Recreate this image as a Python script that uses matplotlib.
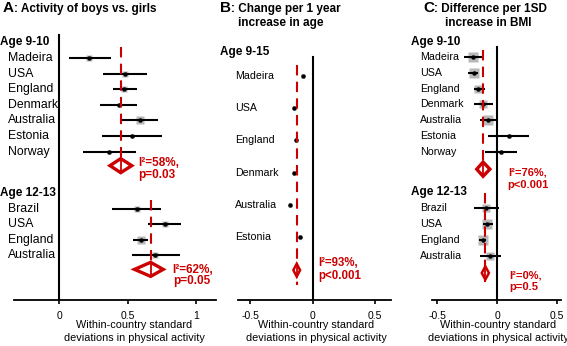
import matplotlib
matplotlib.use("Agg")
import matplotlib.pyplot as plt
import matplotlib.transforms as mtransforms
import numpy as np

plt.rcParams['font.family'] = ['Liberation Sans', 'DejaVu Sans']

# ---------------- data ----------------
# Panel A: activity of boys vs girls
a_g1_countries = ["Madeira", "USA", "England", "Denmark", "Australia", "Estonia", "Norway"]
a_g1_est = [0.22, 0.48, 0.475, 0.435, 0.59, 0.53, 0.36]
a_g1_lo = [0.07, 0.32, 0.39, 0.30, 0.45, 0.31, 0.17]
a_g1_hi = [0.38, 0.64, 0.57, 0.57, 0.72, 0.75, 0.56]
a_g1_weight = [5, 5, 5, 4, 6, 4, 4]
a_g1_pooled = [0.449, 0.37, 0.53]
a_g1_stat = ["I²=58%,", "p=0.03"]

a_g2_countries = ["Brazil", "USA", "England", "Australia"]
a_g2_est = [0.566, 0.775, 0.60, 0.70]
a_g2_lo = [0.385, 0.65, 0.54, 0.53]
a_g2_hi = [0.746, 0.89, 0.65, 0.88]
a_g2_weight = [5, 5, 6, 5]
a_g2_pooled = [0.668, 0.55, 0.76]
a_g2_stat = ["I²=62%,", "p=0.05"]

# Panel B: change per 1 year increase in age
b_countries = ["Madeira", "USA", "England", "Denmark", "Australia", "Estonia"]
b_est = [-0.075, -0.147, -0.133, -0.147, -0.18, -0.10]
b_lo = [-0.085, -0.155, -0.140, -0.155, -0.188, -0.110]
b_hi = [-0.065, -0.139, -0.126, -0.139, -0.172, -0.090]
b_weight = [3, 3, 3, 3, 3, 4]
b_pooled = [-0.128, -0.155, -0.101]
b_stat = ["I²=93%,", "p<0.001"]

# Panel C: difference per 1SD increase in BMI
c_g1_countries = ["Madeira", "USA", "England", "Denmark", "Australia", "Estonia", "Norway"]
c_g1_est = [-0.20, -0.195, -0.16, -0.117, -0.075, 0.10, 0.036]
c_g1_lo = [-0.28, -0.24, -0.19, -0.19, -0.14, -0.075, -0.10]
c_g1_hi = [-0.12, -0.16, -0.10, -0.03, -0.005, 0.27, 0.17]
c_g1_weight = [8, 8, 7, 6, 8, 3, 4]
c_g1_pooled = [-0.117, -0.17, -0.06]
c_g1_stat = ["I²=76%,", "p<0.001"]

c_g2_countries = ["Brazil", "USA", "England", "Australia"]
c_g2_est = [-0.09, -0.08, -0.12, -0.056]
c_g2_lo = [-0.19, -0.12, -0.15, -0.145]
c_g2_hi = [0.02, -0.03, -0.09, 0.03]
c_g2_weight = [6, 8, 8, 6]
c_g2_pooled = [-0.098, -0.128, -0.068]
c_g2_stat = ["I²=0%,", "p=0.5"]

a_ticks = [0, 0.5, 1]
a_ticklabels = ["0", "0.5", "1"]
bc_ticks = [-0.5, 0, 0.5]
bc_ticklabels = ["-0.5", "0", "0.5"]

xlabel_lines = ["Within-country standard", "deviations in physical activity"]

# ---------------- layout ----------------
W, H = 567, 346
fig = plt.figure(figsize=(W / 100, H / 100), dpi=100)
RED = "#cc0000"
GRAY = "#b8b8b8"
PT = 72 / 100  # points per pixel


def fx(px):
    return px / W


def fy(py):
    return 1 - py / H


def make_ax(x0, x1, xlim, ylim):
    ax = fig.add_axes([fx(x0), fy(300), (x1 - x0) / W, 270 / H])
    ax.set_xlim(*xlim)
    ax.set_ylim(*ylim)
    for s in ("left", "top", "right"):
        ax.spines[s].set_visible(False)
    ax.spines["bottom"].set_linewidth(1.3)
    ax.set_yticks([])
    ax.tick_params(axis="x", direction="out", length=3, width=1.2, pad=5, labelsize=7.5)
    ax.patch.set_visible(False)
    return ax


def draw_group(ax, ys, est, lo, hi, weight, show_ci=True):
    for y, e, l, h, w in zip(ys, est, lo, hi, weight):
        ax.plot([e], [y], marker="s", ms=w * PT * 1.25, color=GRAY, mec="none", zorder=2)
        if show_ci:
            ax.plot([l, h], [y, y], color="black", lw=1.5, zorder=3, solid_capstyle="butt")
        ax.plot([e], [y], marker="o", ms=3.2, color="black", mec="none", zorder=4)


def draw_pooled(ax, yd, pooled, hh, ytop, ybot, lw=2.4):
    e, l, h = pooled
    ax.plot([e, e], [ytop, ybot], color=RED, lw=1.5, dashes=(5, 3), zorder=5)
    xs = [l, e, h, e, l]
    ysd = [yd, yd - hh, yd, yd + hh, yd]
    ax.fill(xs, ysd, facecolor="white", edgecolor=RED, lw=lw, zorder=6, joinstyle="miter")
    ax.plot([e, e], [yd - hh, yd + hh], color=RED, lw=1.3, zorder=7)


def stat_text(ax, x, y1, y2, lines, size):
    ax.text(x, y1, lines[0], color=RED, fontsize=size, fontweight="bold", va="center", ha="left")
    ax.text(x, y2, lines[1], color=RED, fontsize=size, fontweight="bold", va="center", ha="left")


def labels(ax, xpx, ys, names, size):
    tr = mtransforms.blended_transform_factory(fig.transFigure, ax.transData)
    for y, n in zip(ys, names):
        ax.text(fx(xpx), y, n, transform=tr, fontsize=size, va="center", ha="left", clip_on=False)


def header(ax, xpx, y, text):
    tr = mtransforms.blended_transform_factory(fig.transFigure, ax.transData)
    ax.text(fx(xpx), y, text, transform=tr, fontsize=8.5, fontweight="bold", va="center", ha="left")


def xlabel(cx):
    fig.text(fx(cx), fy(325), xlabel_lines[0], fontsize=7.8, ha="center", va="center")
    fig.text(fx(cx), fy(338), xlabel_lines[1], fontsize=7.8, ha="center", va="center")


# ---- Panel A ----
ua, ya0 = 15.6, 58
axA = make_ax(14, 216, (-0.333, 1.147), ((300 - ya0) / ua, (30 - ya0) / ua))
axA.set_xticks(a_ticks)
axA.set_xticklabels(a_ticklabels)
ya1 = np.arange(len(a_g1_countries), dtype=float)
ya2 = 9.65 + np.arange(len(a_g2_countries))
axA.plot([0, 0], [-1.47, (300 - ya0) / ua], color="black", lw=1.5, zorder=1)
draw_group(axA, ya1, a_g1_est, a_g1_lo, a_g1_hi, a_g1_weight)
draw_group(axA, ya2, a_g2_est, a_g2_lo, a_g2_hi, a_g2_weight)
draw_pooled(axA, 6.9, a_g1_pooled, 0.45, -0.7, 7.45)
draw_pooled(axA, 13.55, a_g2_pooled, 0.45, 9.1, 14.2)
stat_text(axA, 0.575, 6.71, 7.5, a_g1_stat, 8.5)
stat_text(axA, 0.83, 13.6, 14.3, a_g2_stat, 8.5)
labels(axA, 8, ya1, a_g1_countries, 8.8)
labels(axA, 8, ya2, a_g2_countries, 8.8)
header(axA, 0, -1.0, "Age 9-10")
header(axA, 0, 8.65, "Age 12-13")
xlabel(134.5)

# ---- Panel B ----
ub, yb0 = 32.2, 76
axB = make_ax(237.7, 391, (-0.6, 0.626), ((300 - yb0) / ub, (30 - yb0) / ub))
axB.set_xticks(bc_ticks)
axB.set_xticklabels(bc_ticklabels)
yb = np.arange(len(b_countries), dtype=float)
axB.plot([0, 0], [-0.59, (300 - yb0) / ub], color="black", lw=1.5, zorder=1)
draw_group(axB, yb, b_est, b_lo, b_hi, b_weight)
draw_pooled(axB, 6.03, b_pooled, 0.2, -0.34, 6.49, lw=1.8)
stat_text(axB, 0.042, 5.81, 6.21, b_stat, 8.3)
labels(axB, 235, yb, b_countries, 7.7)
header(axB, 220, -0.75, "Age 9-15")
xlabel(316)

# ---- Panel C ----
uc, yc0 = 15.8, 57
axC = make_ax(432, 561, (-0.545, 0.536), ((300 - yc0) / uc, (30 - yc0) / uc))
axC.set_xticks(bc_ticks)
axC.set_xticklabels(bc_ticklabels)
yc1 = np.arange(len(c_g1_countries), dtype=float)
yc2 = 9.57 + np.arange(len(c_g2_countries))
axC.plot([0, 0], [-0.63, (300 - yc0) / uc], color="black", lw=1.5, zorder=1)
draw_group(axC, yc1, c_g1_est, c_g1_lo, c_g1_hi, c_g1_weight)
draw_group(axC, yc2, c_g2_est, c_g2_lo, c_g2_hi, c_g2_weight)
draw_pooled(axC, 7.1, c_g1_pooled, 0.45, -0.44, 7.66)
draw_pooled(axC, 13.67, c_g2_pooled, 0.42, 8.6, 14.24, lw=1.8)
stat_text(axC, 0.09, 7.32, 8.1, c_g1_stat, 8.0)
stat_text(axC, 0.10, 13.8, 14.54, c_g2_stat, 8.0)
labels(axC, 419.7, yc1, c_g1_countries, 7.7)
labels(axC, 419.7, yc2, c_g2_countries, 7.7)
header(axC, 410.7, -0.95, "Age 9-10")
header(axC, 410.7, 8.54, "Age 12-13")
xlabel(498)

# ---- Titles ----
fig.canvas.draw()
renderer = fig.canvas.get_renderer()


def title_line(xpx, ybase, letter, rest):
    t1 = fig.text(fx(xpx), fy(ybase), letter, fontsize=11, fontweight="bold", va="baseline", ha="left")
    bb = t1.get_window_extent(renderer)
    fig.text(bb.x1 / fig.bbox.width, fy(ybase), rest, fontsize=8.5, fontweight="bold",
             va="baseline", ha="left")


title_line(3, 12, "A", ": Activity of boys vs. girls")
title_line(220, 12, "B", ": Change per 1 year")
fig.text(fx(281), fy(26), "increase in age", fontsize=8.5, fontweight="bold", va="baseline", ha="center")
title_line(423, 12, "C", ": Difference per 1SD")
fig.text(fx(488), fy(26), "increase in BMI", fontsize=8.5, fontweight="bold", va="baseline", ha="center")

fig.savefig("out.png", dpi=100)
